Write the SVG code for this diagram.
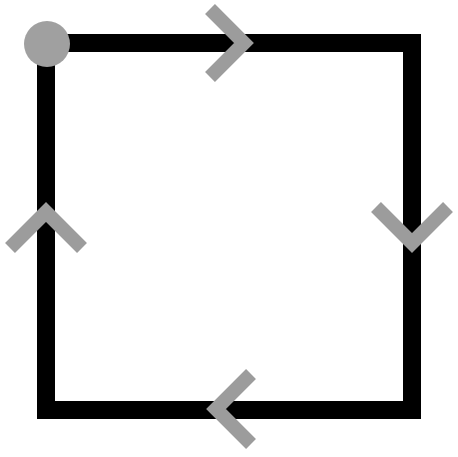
<svg xmlns="http://www.w3.org/2000/svg" width="458" height="457" viewBox="0 0 458 457">
<style>
.edge{fill:none;stroke:#000;stroke-width:18}
.chev{fill:none;stroke:#9c9c9c;stroke-width:14;stroke-linejoin:miter}
</style>
<rect width="458" height="457" fill="#fff"/>
<g id="connectors">
<rect class="edge" x="46" y="43" width="366" height="367"/>
</g>
<g id="arrows">
<polyline class="chev" points="210,9 244,43 210,77"/>
<polyline class="chev" points="376,207 412,243 448,207"/>
<polyline class="chev" points="251,374 216,409 251,444"/>
<polyline class="chev" points="10,248 46,212 82,248"/>
</g>
<g id="start">
<circle cx="47" cy="44" r="23" fill="#a0a0a0"/>
</g>
</svg>
